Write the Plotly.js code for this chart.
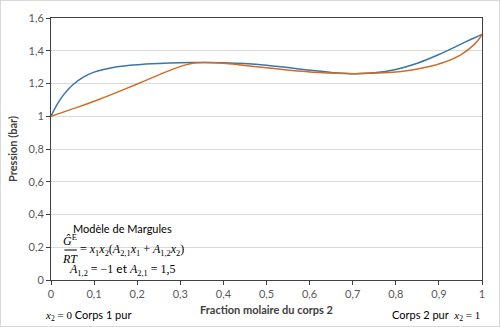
<!DOCTYPE html>
<html>
<head>
<meta charset="utf-8">
<script src="https://cdn.plot.ly/plotly-3.0.1.min.js"></script>
<style>
html,body{margin:0;padding:0;background:#fff;}
#wrap{position:relative;width:500px;height:327px;}
#chart{width:500px;height:327px;}
#frame{position:absolute;left:0;top:0;width:498px;height:325px;border:1px solid #d9d9d9;pointer-events:none;}
</style>
</head>
<body>
<div id="wrap"><div id="chart"></div><div id="frame"></div></div>
<script>
// Liquid mole fraction of component 2 (bubble curve abscissa)
const x2Liquid = [0, 0.01, 0.02, 0.03, 0.05, 0.075, 0.1, 0.15, 0.2, 0.25, 0.3, 0.35, 0.4, 0.45, 0.5, 0.55, 0.6, 0.65, 0.7, 0.75, 0.8, 0.85, 0.9, 0.95, 0.975, 1];
// Pressure (bar)
const pressure = [1, 1.0525, 1.0966, 1.1336, 1.1907, 1.2386, 1.2693, 1.3013, 1.3151, 1.3223, 1.3266, 1.3286, 1.3274, 1.3219, 1.3116, 1.2973, 1.2813, 1.2674, 1.2603, 1.2652, 1.2858, 1.3237, 1.3768, 1.4389, 1.4703, 1.5];
// Vapour mole fraction of component 2 (dew curve abscissa)
const y2Vapor = [0, 0.0590, 0.1050, 0.1414, 0.1946, 0.2378, 0.2657, 0.2973, 0.3141, 0.3264, 0.3392, 0.3555, 0.3775, 0.4070, 0.4453, 0.4937, 0.5525, 0.6209, 0.6959, 0.7726, 0.8445, 0.9054, 0.9516, 0.9823, 0.9926, 1];

const xTicks = [0, 0.1, 0.2, 0.3, 0.4, 0.5, 0.6, 0.7, 0.8, 0.9, 1];
const yTicks = [0, 0.2, 0.4, 0.6, 0.8, 1, 1.2, 1.4, 1.6];

const SANS = 'Lato, "Open Sans", sans-serif';
const SERIF = '"Liberation Serif", "DejaVu Serif", serif';

const traces = [
  {x: x2Liquid, y: pressure, type: 'scatter', mode: 'lines', name: 'Bulle',
   line: {color: '#3a76a8', width: 1.5, shape: 'spline', smoothing: 0.8}, hoverinfo: 'skip'},
  {x: y2Vapor, y: pressure, type: 'scatter', mode: 'lines', name: 'Rosée',
   line: {color: '#d06c28', width: 1.5, shape: 'spline', smoothing: 0.8}, hoverinfo: 'skip'}
];

const axisCommon = {
  showline: true, linecolor: '#404040', linewidth: 1, mirror: true,
  ticks: 'outside', ticklen: 4, tickcolor: '#404040', tickwidth: 1,
  tickfont: {family: SANS, size: 11, color: '#595959'},
  zeroline: false
};

const layout = {
  width: 500, height: 327,
  margin: {l: 51, r: 18, t: 18, b: 47},
  paper_bgcolor: '#ffffff', plot_bgcolor: '#ffffff',
  separators: ', ',
  showlegend: false,
  xaxis: Object.assign({}, axisCommon, {
    range: [0, 1], tickvals: xTicks, showgrid: false,
    title: {text: '<b>Fraction molaire du corps 2</b>', font: {family: SANS, size: 11, color: '#404040'}, standoff: 7}
  }),
  yaxis: Object.assign({}, axisCommon, {
    range: [0, 1.6], tickvals: yTicks, showgrid: true, gridcolor: '#d9d9d9', gridwidth: 1,
    title: {text: '<b>Pression (bar)</b>', font: {family: SANS, size: 11, color: '#404040'}, standoff: 8}
  }),
  shapes: [
    {type: 'line', xref: 'x', yref: 'y', x0: 0.031, x1: 0.060, y0: 0.183, y1: 0.183, line: {color: '#000', width: 1}}
  ],
  annotations: [
    {x: 0.167, y: 0.315, xref: 'x', yref: 'y', showarrow: false, xanchor: 'center', borderpad: 0,
     text: 'Modèle de Margules', font: {family: SANS, size: 11, color: '#000'}},
    {x: 0.045, y: 0.188, xref: 'x', yref: 'y', showarrow: false, xanchor: 'center', yanchor: 'bottom', borderpad: 0,
     text: '<i>Ĝ</i><sup>E</sup>', font: {family: SERIF, size: 12, color: '#000'}},
    {x: 0.045, y: 0.178, xref: 'x', yref: 'y', showarrow: false, xanchor: 'center', yanchor: 'top', borderpad: 0,
     text: '<i>RT</i>', font: {family: SERIF, size: 12, color: '#000'}},
    {x: 0.064, y: 0.183, xref: 'x', yref: 'y', showarrow: false, xanchor: 'left', borderpad: 0,
     text: '= <i>x</i><sub>1</sub><i>x</i><sub>2</sub>(<i>A</i><sub>2,1</sub><i>x</i><sub>1</sub> + <i>A</i><sub>1,2</sub><i>x</i><sub>2</sub>)',
     font: {family: SERIF, size: 12, color: '#000'}},
    {x: 0.167, y: 0.066, xref: 'x', yref: 'y', showarrow: false, xanchor: 'center', borderpad: 0,
     text: '<i>A</i><sub>1,2</sub> = −1 <span style="font-family:Lato">et</span> <i>A</i><sub>2,1</sub> = 1,5',
     font: {family: SERIF, size: 12, color: '#000'}},
    {x: -0.019, y: -0.137, xref: 'paper', yref: 'paper', showarrow: false, xanchor: 'left', yanchor: 'middle',
     text: '<i>x</i><sub>2</sub> = 0 <span style="font-family:Lato">Corps 1 pur</span>',
     font: {family: SERIF, size: 11, color: '#000'}},
    {x: 1.0, y: -0.137, xref: 'paper', yref: 'paper', showarrow: false, xanchor: 'right', yanchor: 'middle',
     text: '<span style="font-family:Lato">Corps 2 pur</span>  <i>x</i><sub>2</sub> = 1',
     font: {family: SERIF, size: 11, color: '#000'}}
  ]
};

Plotly.newPlot('chart', traces, layout, {displayModeBar: false, staticPlot: true});
</script>
</body>
</html>
